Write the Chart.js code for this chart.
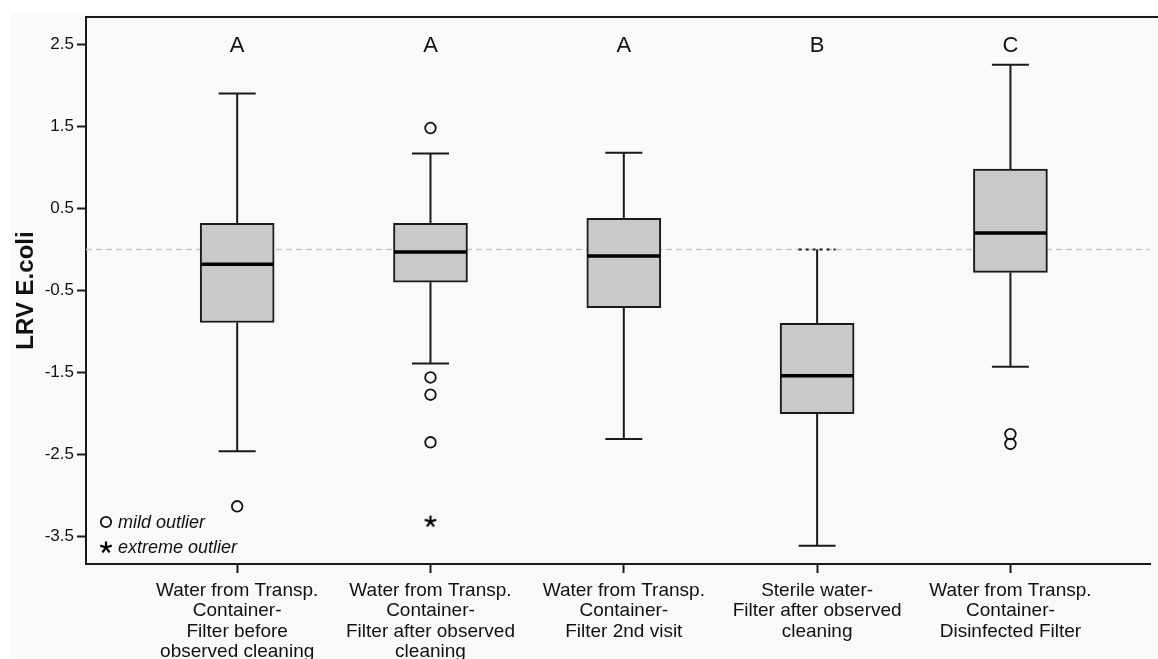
<!DOCTYPE html>
<html>
<head>
<meta charset="utf-8">
<script src="https://cdn.jsdelivr.net/npm/chart.js@4.4.1/dist/chart.umd.min.js"></script>
<style>
  html, body { margin: 0; padding: 0; background: #ffffff; }
  #wrap { width: 1158px; height: 659px; position: relative; }
</style>
</head>
<body>
<div id="wrap"><canvas id="c" width="1158" height="659"></canvas></div>
<script>
// ---------- data ----------
const categories = [
  ['Water from Transp.', 'Container-', 'Filter before', 'observed cleaning'],
  ['Water from Transp.', 'Container-', 'Filter after observed', 'cleaning'],
  ['Water from Transp.', 'Container-', 'Filter 2nd visit'],
  ['Sterile water-', 'Filter after observed', 'cleaning'],
  ['Water from Transp.', 'Container-', 'Disinfected Filter']
];
const whiskerHigh = [1.90, 1.17, 1.18, 0.00, 2.25];
const q3Values    = [0.32, 0.32, 0.38, -0.90, 0.98];
const medianValues= [-0.18, -0.03, -0.08, -1.54, 0.20];
const q1Values    = [-0.89, -0.40, -0.71, -2.00, -0.28];
const whiskerLow  = [-2.46, -1.39, -2.31, -3.61, -1.43];
const mildOutliers    = [[-3.13], [1.48, -1.56, -1.77, -2.35], [], [], [-2.25, -2.37]];
const extremeOutliers = [[], [-3.31], [], [], []];
const groupLetters = ['A', 'A', 'A', 'B', 'C'];
const letterLevel = 2.48;
const yTickValues = [2.5, 1.5, 0.5, -0.5, -1.5, -2.5, -3.5];
const referenceLevel = 0;
const yTitle = 'LRV E.coli';
const legendItems = ['mild outlier', 'extreme outlier'];

// ---------- helpers ----------
const positions = categories.map((_, i) => i + 1);
const boxData = positions.map((p, i) => ({ x: p, y: [q1Values[i], q3Values[i]] }));
const mildData = [];
mildOutliers.forEach((arr, i) => arr.forEach(v => mildData.push({ x: positions[i], y: v })));
const extremeData = [];
extremeOutliers.forEach((arr, i) => arr.forEach(v => extremeData.push({ x: positions[i], y: v })));

function makeAsterisk(size) {
  const c = document.createElement('canvas');
  c.width = size; c.height = size;
  const g = c.getContext('2d');
  g.strokeStyle = '#000'; g.lineWidth = 2.2; g.lineCap = 'butt';
  const cx = size / 2, cy = size / 2 + 0.5, r = size / 2 - 1;
  for (let k = 0; k < 5; k++) {
    const a = -Math.PI / 2 + k * 2 * Math.PI / 5;
    g.beginPath(); g.moveTo(cx, cy); g.lineTo(cx + r * Math.cos(a), cy + r * Math.sin(a)); g.stroke();
  }
  return c;
}
const asterisk = makeAsterisk(14);

const BOX_W = 74, CAP_W = 37;
const FONT = '"Liberation Sans", Arial, sans-serif';

const boxPlugin = {
  id: 'boxExtras',
  beforeDraw(chart) {
    const ctx = chart.ctx;
    ctx.save();
    ctx.fillStyle = '#ffffff';
    ctx.fillRect(0, 0, chart.width, chart.height);
    ctx.fillStyle = '#f9f9f9';
    ctx.fillRect(10, 13, chart.width - 10, chart.height - 13);
    ctx.restore();
  },
  beforeDatasetsDraw(chart) {
    const ctx = chart.ctx, xs = chart.scales.x, ys = chart.scales.y, a = chart.chartArea;
    ctx.save();
    const y0 = ys.getPixelForValue(referenceLevel);
    ctx.strokeStyle = '#c8c8c8'; ctx.lineWidth = 1.5; ctx.setLineDash([6, 4]);
    ctx.beginPath(); ctx.moveTo(a.left, y0); ctx.lineTo(a.right, y0); ctx.stroke();
    ctx.setLineDash([]);
    ctx.strokeStyle = '#1a1a1a'; ctx.lineWidth = 2;
    positions.forEach((p, i) => {
      const x = xs.getPixelForValue(p);
      const yh = ys.getPixelForValue(whiskerHigh[i]), yq3 = ys.getPixelForValue(q3Values[i]);
      const yl = ys.getPixelForValue(whiskerLow[i]), yq1 = ys.getPixelForValue(q1Values[i]);
      ctx.beginPath(); ctx.moveTo(x, yh); ctx.lineTo(x, yq3); ctx.moveTo(x, yq1); ctx.lineTo(x, yl); ctx.stroke();
      if (whiskerHigh[i] === referenceLevel) ctx.setLineDash([3, 4]);
      ctx.beginPath(); ctx.moveTo(x - CAP_W / 2, yh); ctx.lineTo(x + CAP_W / 2, yh); ctx.stroke();
      ctx.setLineDash([]);
      ctx.beginPath(); ctx.moveTo(x - CAP_W / 2, yl); ctx.lineTo(x + CAP_W / 2, yl); ctx.stroke();
    });
    ctx.restore();
  },
  afterDatasetsDraw(chart) {
    const ctx = chart.ctx, xs = chart.scales.x, ys = chart.scales.y, a = chart.chartArea;
    ctx.save();
    ctx.strokeStyle = '#000'; ctx.lineWidth = 3.5;
    positions.forEach((p, i) => {
      const x = xs.getPixelForValue(p), y = ys.getPixelForValue(medianValues[i]);
      ctx.beginPath(); ctx.moveTo(x - BOX_W / 2 + 1, y); ctx.lineTo(x + BOX_W / 2 - 1, y); ctx.stroke();
    });
    ctx.fillStyle = '#111'; ctx.font = '22px ' + FONT;
    ctx.textAlign = 'center'; ctx.textBaseline = 'middle';
    positions.forEach((p, i) => {
      ctx.fillText(groupLetters[i], xs.getPixelForValue(p), ys.getPixelForValue(letterLevel));
    });
    ctx.strokeStyle = '#1a1a1a'; ctx.lineWidth = 2;
    ctx.beginPath(); ctx.moveTo(a.left - 1, a.top); ctx.lineTo(chart.width, a.top); ctx.stroke();
    ctx.font = 'italic 18px ' + FONT;
    ctx.textAlign = 'left'; ctx.textBaseline = 'middle';
    ctx.lineWidth = 1.8; ctx.strokeStyle = '#111';
    ctx.beginPath(); ctx.arc(106, 522, 5.2, 0, Math.PI * 2); ctx.stroke();
    ctx.fillText(legendItems[0], 118, 523);
    ctx.drawImage(asterisk, 99, 540);
    ctx.fillText(legendItems[1], 118, 548);
    ctx.restore();
  }
};

new Chart(document.getElementById('c'), {
  type: 'bar',
  data: {
    datasets: [
      {
        type: 'bar',
        data: boxData,
        backgroundColor: '#c9c9c9',
        borderColor: '#1a1a1a',
        borderWidth: 2,
        borderSkipped: false,
        barThickness: BOX_W,
        order: 2
      },
      {
        type: 'scatter',
        data: mildData,
        pointStyle: 'circle',
        pointRadius: 5.3,
        pointBorderWidth: 1.8,
        pointBorderColor: '#111',
        pointBackgroundColor: 'rgba(0,0,0,0)',
        order: 1
      },
      {
        type: 'scatter',
        data: extremeData,
        pointStyle: asterisk,
        pointRadius: 7,
        order: 1
      }
    ]
  },
  options: {
    responsive: false,
    animation: false,
    devicePixelRatio: 1,
    layout: { padding: { top: 17, left: 0, right: 0, bottom: 0 } },
    plugins: { legend: { display: false }, tooltip: { enabled: false } },
    scales: {
      x: {
        type: 'linear',
        min: 0.218,
        max: 5.722,
        offset: false,
        afterBuildTicks(scale) { scale.ticks = positions.map(v => ({ value: v })); },
        afterFit(scale) { scale.height = 95; },
        grid: { offset: false, drawOnChartArea: false, drawTicks: true, tickLength: 9, tickWidth: 2, tickColor: '#1a1a1a' },
        border: { display: true, color: '#1a1a1a', width: 2 },
        ticks: {
          autoSkip: false,
          maxRotation: 0,
          padding: 8,
          color: '#111',
          font: { family: FONT, size: 19, lineHeight: 1.06 },
          callback: (v) => categories[Math.round(v) - 1] || ''
        }
      },
      y: {
        type: 'linear',
        min: -3.833,
        max: 2.833,
        afterBuildTicks(scale) { scale.ticks = yTickValues.map(v => ({ value: v })); },
        afterFit(scale) { scale.width = 86; },
        grid: { drawOnChartArea: false, drawTicks: true, tickLength: 9, tickWidth: 2, tickColor: '#1a1a1a' },
        border: { display: true, color: '#1a1a1a', width: 2 },
        title: {
          display: true,
          text: yTitle,
          color: '#111',
          font: { family: FONT, size: 24, weight: 'bold', lineHeight: 1.0 },
          padding: { top: 14, bottom: 0 }
        },
        ticks: {
          autoSkip: false,
          padding: 3,
          color: '#111',
          font: { family: FONT, size: 17 },
          callback: (v) => v.toFixed(1)
        }
      }
    }
  },
  plugins: [boxPlugin]
});
</script>
</body>
</html>
